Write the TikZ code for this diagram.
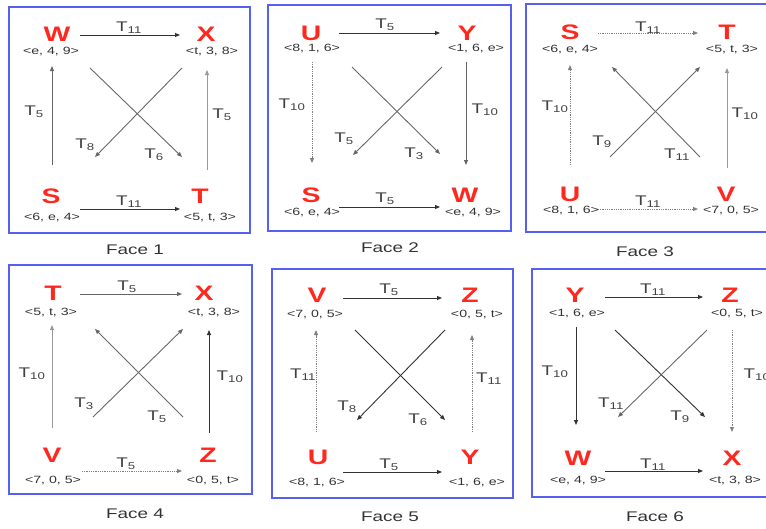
\documentclass[tikz,border=0pt]{standalone}
\usepackage{fontspec}
\usetikzlibrary{arrows.meta}
\newfontfamily\wfont[FakeStretch=1.35]{Liberation Sans}
\definecolor{boxblue}{RGB}{85,95,240}
\definecolor{vred}{RGB}{255,40,30}
\definecolor{tupc}{RGB}{50,50,50}
\definecolor{labc}{RGB}{64,64,64}
\begin{document}
\begin{tikzpicture}[x=1pt,y=-1pt,
  vx/.style={text=vred,font=\wfont\bfseries\fontsize{21}{21}\selectfont,inner sep=0pt},
  tp/.style={text=tupc,font=\wfont\fontsize{10.5}{10.5}\selectfont,inner sep=0pt},
  lb/.style={text=labc,font=\wfont\fontsize{14}{14}\selectfont,inner sep=0pt,anchor=base},
  capt/.style={text=black!80,font=\wfont\fontsize{14}{14}\selectfont,inner sep=0pt},
  frame/.style={draw=boxblue,line width=1.8pt},
  arr/.style={line width=0.9pt,-{Triangle[length=5pt,width=4pt]}},
  dk/.style={arr,draw=black!80},
  md/.style={arr,draw=black!60},
  lt/.style={arr,draw=black!40},
  dt/.style={arr,draw=black!50,dash pattern=on 1pt off 0.8pt}
]
\useasboundingbox (0,0) rectangle (766,528);
\clip (0,0) rectangle (766,528);

% frames
\draw[frame] (9,7) rectangle (250,233);
\draw[frame] (268,5) rectangle (511,231);
\draw[frame] (526,4) rectangle (775,232);
\draw[frame] (9,265) rectangle (252,494);
\draw[frame] (272,269) rectangle (513,498);
\draw[frame] (532,269) rectangle (775,497);

% captions
\node[capt] (c1) at (135,250) {Face 1};
\node[capt] (c2) at (390,248) {Face 2};
\node[capt] (c3) at (645,252) {Face 3};
\node[capt] (c4) at (135,514) {Face 4};
\node[capt] (c5) at (390,517) {Face 5};
\node[capt] (c6) at (655,517) {Face 6};

% ===== Face 1
\node[vx] (1W) at (57,34) {W};
\node[vx] (1X) at (206,34) {X};
\node[vx] (1S) at (51,196) {S};
\node[vx] (1T) at (200,196) {T};
\node[tp] (1Wt) at (51,52) {<e, 4, 9>};
\node[tp] (1Xt) at (212,52) {<t, 3, 8>};
\node[tp] (1St) at (52,218) {<6, e, 4>};
\node[tp] (1Tt) at (210,218) {<5, t, 3>};
\draw[dk] ([shift={(23,1)}]1W.center) -- ([shift={(-26,1)}]1X.center);
\draw[dk] ([shift={(29,13)}]1S.center) -- ([shift={(-20,13)}]1T.center);
\draw[md] ([shift={(1,-31)}]1S.center) -- ([shift={(1,14)}]1Wt.center);
\draw[lt] ([shift={(7,-26)}]1T.center) -- ([shift={(-5,18)}]1Xt.center);
\draw[md] ([shift={(39,16)}]1Wt.center) -- ([shift={(-18,-39)}]1T.center);
\draw[md] ([shift={(-30,16)}]1Xt.center) -- ([shift={(44,-39)}]1S.center);
\node[lb] (1a) at (129,31) {T\textsubscript{11}};
\node[lb] (1b) at (129,205) {T\textsubscript{11}};
\node[lb] (1c) at (34,115) {T\textsubscript{5}};
\node[lb] (1d) at (222,118) {T\textsubscript{5}};
\node[lb] (1e) at (85,148) {T\textsubscript{8}};
\node[lb] (1f) at (154,158) {T\textsubscript{6}};

% ===== Face 2
\node[vx] (2U) at (311,33) {U};
\node[vx] (2Y) at (467,33) {Y};
\node[vx] (2S) at (311,195) {S};
\node[vx] (2W) at (465,195) {W};
\node[tp] (2Ut) at (312,49) {<8, 1, 6>};
\node[tp] (2Yt) at (476,49) {<1, 6, e>};
\node[tp] (2St) at (312,213) {<6, e, 4>};
\node[tp] (2Wt) at (473,213) {<e, 4, 9>};
\draw[dk] ([shift={(28,0)}]2U.center) -- ([shift={(-27,0)}]2Y.center);
\draw[dk] ([shift={(28,12)}]2S.center) -- ([shift={(-25,12)}]2W.center);
\draw[dt] ([shift={(0,13)}]2Ut.center) -- ([shift={(1,-32)}]2S.center);
\draw[md] ([shift={(-10,13)}]2Yt.center) -- ([shift={(1,-30)}]2W.center);
\draw[md] ([shift={(40,18)}]2Ut.center) -- ([shift={(-25,-41)}]2W.center);
\draw[md] ([shift={(-34,18)}]2Yt.center) -- ([shift={(42,-40)}]2S.center);
\node[lb] (2a) at (385,28) {T\textsubscript{5}};
\node[lb] (2b) at (385,202) {T\textsubscript{5}};
\node[lb] (2c) at (292,108) {T\textsubscript{10}};
\node[lb] (2d) at (485,113) {T\textsubscript{10}};
\node[lb] (2e) at (344,142) {T\textsubscript{5}};
\node[lb] (2f) at (414,157) {T\textsubscript{3}};

% ===== Face 3
\node[vx] (3S) at (570,32) {S};
\node[vx] (3T) at (727,32) {T};
\node[vx] (3U) at (570,194) {U};
\node[vx] (3V) at (726,194) {V};
\node[tp] (3St) at (570,50) {<6, e, 4>};
\node[tp] (3Tt) at (732,50) {<5, t, 3>};
\node[tp] (3Ut) at (571,211) {<8, 1, 6>};
\node[tp] (3Vt) at (731,211) {<7, 0, 5>};
\draw[dt] ([shift={(28,1)}]3S.center) -- ([shift={(-29,1)}]3T.center);
\draw[dt] ([shift={(28,15)}]3U.center) -- ([shift={(-28,15)}]3V.center);
\draw[dt] ([shift={(0,-29)}]3U.center) -- ([shift={(0,15)}]3St.center);
\draw[lt] ([shift={(1,-26)}]3V.center) -- ([shift={(-5,18)}]3Tt.center);
\draw[md] ([shift={(40,-37)}]3U.center) -- ([shift={(-32,17)}]3Tt.center);
\draw[md] ([shift={(-26,-37)}]3V.center) -- ([shift={(42,17)}]3St.center);
\node[lb] (3a) at (648,31) {T\textsubscript{11}};
\node[lb] (3b) at (648,205) {T\textsubscript{11}};
\node[lb] (3c) at (555,110) {T\textsubscript{10}};
\node[lb] (3d) at (745,117) {T\textsubscript{10}};
\node[lb] (3e) at (602,145) {T\textsubscript{9}};
\node[lb] (3f) at (677,158) {T\textsubscript{11}};

% ===== Face 4
\node[vx] (4T) at (53,293) {T};
\node[vx] (4X) at (204,293) {X};
\node[vx] (4V) at (52,455) {V};
\node[vx] (4Z) at (208,455) {Z};
\node[tp] (4Tt) at (51,312) {<5, t, 3>};
\node[tp] (4Xt) at (214,312) {<t, 3, 8>};
\node[tp] (4Vt) at (53,480) {<7, 0, 5>};
\node[tp] (4Zt) at (213,480) {<0, 5, t>};
\draw[md] ([shift={(27,1)}]4T.center) -- ([shift={(-22,1)}]4X.center);
\draw[dt] ([shift={(30,16)}]4V.center) -- ([shift={(-26,16)}]4Z.center);
\draw[lt] ([shift={(0,-27)}]4V.center) -- ([shift={(1,13)}]4Tt.center);
\draw[dk] ([shift={(1,-22)}]4Z.center) -- ([shift={(-5,18)}]4Xt.center);
\draw[md] ([shift={(41,-38)}]4V.center) -- ([shift={(-31,17)}]4Xt.center);
\draw[md] ([shift={(-25,-38)}]4Z.center) -- ([shift={(44,17)}]4Tt.center);
\node[lb] (4a) at (127,290) {T\textsubscript{5}};
\node[lb] (4b) at (126,467) {T\textsubscript{5}};
\node[lb] (4c) at (32,377) {T\textsubscript{10}};
\node[lb] (4d) at (230,380) {T\textsubscript{10}};
\node[lb] (4e) at (84,407) {T\textsubscript{3}};
\node[lb] (4f) at (157,420) {T\textsubscript{5}};

% ===== Face 5
\node[vx] (5V) at (317,295) {V};
\node[vx] (5Z) at (470,295) {Z};
\node[vx] (5U) at (318,457) {U};
\node[vx] (5Y) at (470,457) {Y};
\node[tp] (5Vt) at (315,314) {<7, 0, 5>};
\node[tp] (5Zt) at (477,314) {<0, 5, t>};
\node[tp] (5Ut) at (317,482) {<8, 1, 6>};
\node[tp] (5Yt) at (477,482) {<1, 6, e>};
\draw[dk] ([shift={(26,3)}]5V.center) -- ([shift={(-28,3)}]5Z.center);
\draw[dk] ([shift={(25,15)}]5U.center) -- ([shift={(-28,15)}]5Y.center);
\draw[dt] ([shift={(-2,-25)}]5U.center) -- ([shift={(1,16)}]5Vt.center);
\draw[dt] ([shift={(2,-25)}]5Y.center) -- ([shift={(-5,21)}]5Zt.center);
\draw[dk] ([shift={(40,16)}]5Vt.center) -- ([shift={(-25,-37)}]5Y.center);
\draw[dk] ([shift={(-32,16)}]5Zt.center) -- ([shift={(39,-37)}]5U.center);
\node[lb] (5a) at (389,293) {T\textsubscript{5}};
\node[lb] (5b) at (389,468) {T\textsubscript{5}};
\node[lb] (5c) at (303,378) {T\textsubscript{11}};
\node[lb] (5d) at (489,382) {T\textsubscript{11}};
\node[lb] (5e) at (347,410) {T\textsubscript{8}};
\node[lb] (5f) at (418,423) {T\textsubscript{6}};

% ===== Face 6
\node[vx] (6Y) at (575,295) {Y};
\node[vx] (6Z) at (730,295) {Z};
\node[vx] (6W) at (578,458) {W};
\node[vx] (6X) at (732,458) {X};
\node[tp] (6Yt) at (577,313) {<1, 6, e>};
\node[tp] (6Zt) at (737,313) {<0, 5, t>};
\node[tp] (6Wt) at (578,480) {<e, 4, 9>};
\node[tp] (6Xt) at (735,480) {<t, 3, 8>};
\draw[dk] ([shift={(30,2)}]6Y.center) -- ([shift={(-27,2)}]6Z.center);
\draw[dk] ([shift={(27,13)}]6W.center) -- ([shift={(-29,13)}]6X.center);
\draw[dk] ([shift={(-1,14)}]6Yt.center) -- ([shift={(-2,-33)}]6W.center);
\draw[dt] ([shift={(-5,17)}]6Zt.center) -- ([shift={(0,-26)}]6X.center);
\draw[dk] ([shift={(38,17)}]6Yt.center) -- ([shift={(-27,-41)}]6X.center);
\draw[md] ([shift={(-30,17)}]6Zt.center) -- ([shift={(40,-41)}]6W.center);
\node[lb] (6a) at (653,293) {T\textsubscript{11}};
\node[lb] (6b) at (653,468) {T\textsubscript{11}};
\node[lb] (6c) at (555,375) {T\textsubscript{10}};
\node[lb] (6d) at (757,378) {T\textsubscript{10}};
\node[lb] (6e) at (611,407) {T\textsubscript{11}};
\node[lb] (6f) at (680,420) {T\textsubscript{9}};
\end{tikzpicture}
\end{document}
